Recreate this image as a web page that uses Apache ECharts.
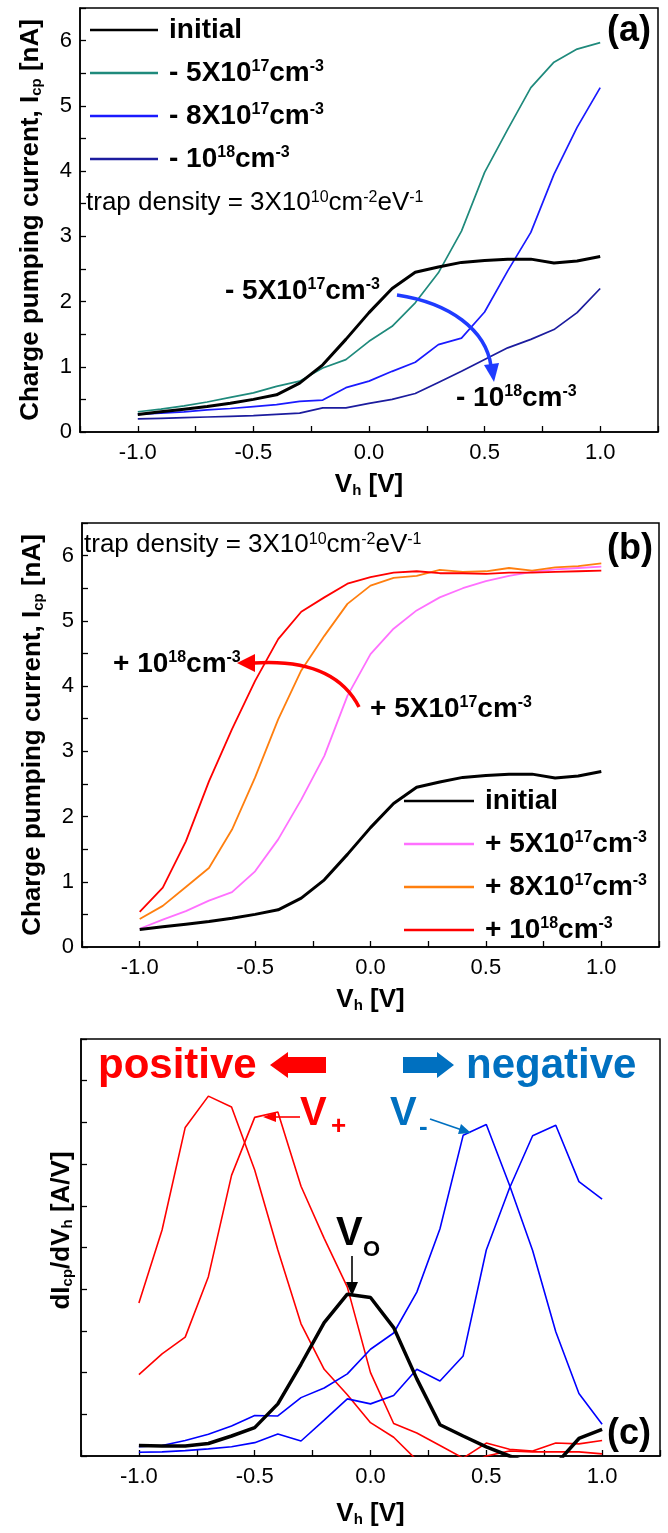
<!DOCTYPE html>
<html>
<head>
<meta charset="utf-8">
<title>Charge pumping current vs Vh</title>
<script src="https://cdn.jsdelivr.net/npm/echarts@6/dist/echarts.min.js"></script>
<style>
  html, body { margin: 0; padding: 0; background: #fff; }
  #chart { width: 668px; height: 1533px; }
</style>
</head>
<body>
<div id="chart"></div>
<script>
  var FONT = '"Liberation Sans", Arial, sans-serif';

  // V_h steps [V], shared by all panels
  var vh = [-1.0, -0.9, -0.8, -0.7, -0.6, -0.5, -0.4, -0.3, -0.2, -0.1, 0.0,
            0.1, 0.2, 0.3, 0.4, 0.5, 0.6, 0.7, 0.8, 0.9, 1.0];

  // (a) / (b) charge pumping current [nA]
  var icpInitial = [0.27, 0.31, 0.35, 0.39, 0.44, 0.50, 0.57, 0.75, 1.03, 1.42, 1.83,
                    2.20, 2.45, 2.53, 2.60, 2.63, 2.65, 2.65, 2.59, 2.62, 2.69];
  var icpNeg5e17 = [0.31, 0.35, 0.40, 0.46, 0.53, 0.60, 0.70, 0.78, 0.98, 1.11, 1.39,
                    1.62, 1.98, 2.44, 3.08, 3.98, 4.64, 5.28, 5.67, 5.87, 5.97];
  var icpNeg8e17 = [0.27, 0.29, 0.31, 0.34, 0.36, 0.39, 0.42, 0.47, 0.49, 0.68, 0.78,
                    0.93, 1.07, 1.34, 1.44, 1.84, 2.47, 3.06, 3.95, 4.67, 5.28];
  var icpNeg1e18 = [0.20, 0.21, 0.22, 0.23, 0.24, 0.25, 0.27, 0.29, 0.37, 0.37, 0.44,
                    0.50, 0.59, 0.76, 0.93, 1.11, 1.29, 1.42, 1.57, 1.83, 2.20];
  var icpPos5e17 = [0.28, 0.42, 0.55, 0.71, 0.84, 1.16, 1.65, 2.26, 2.93, 3.85, 4.49,
                    4.88, 5.16, 5.36, 5.50, 5.61, 5.69, 5.75, 5.79, 5.81, 5.83];
  var icpPos8e17 = [0.43, 0.63, 0.92, 1.21, 1.80, 2.60, 3.49, 4.24, 4.77, 5.26, 5.54,
                    5.66, 5.69, 5.78, 5.75, 5.76, 5.81, 5.77, 5.82, 5.84, 5.88];
  var icpPos1e18 = [0.54, 0.91, 1.62, 2.54, 3.34, 4.08, 4.72, 5.14, 5.36, 5.57, 5.67,
                    5.74, 5.76, 5.73, 5.73, 5.72, 5.74, 5.74, 5.75, 5.76, 5.77];

  // (c) dIcp/dVh, arbitrary units (negative parts fall below the axis)
  var dInitial = [0.25, 0.24, 0.24, 0.30, 0.48, 0.68, 1.25, 2.20, 3.20, 3.88, 3.80,
                  3.08, 1.85, 0.75, 0.48, 0.22, 0.00, -0.20, -0.20, 0.42, 0.64];
  var dPos1e18 = [3.67, 5.42, 7.88, 8.63, 8.37, 6.86, 4.94, 3.17, 2.08, 1.47, 0.80,
                  0.45, -0.10, -0.30, -0.25, 0.00, 0.12, 0.10, 0.10, 0.10, 0.05];
  var dPos5e17 = [1.95, 2.45, 2.85, 4.30, 6.73, 8.12, 8.25, 6.47, 5.22, 4.05, 2.00,
                  0.78, 0.55, 0.25, -0.05, 0.31, 0.16, 0.12, 0.31, 0.29, 0.37];
  var dNeg5e17 = [0.22, 0.25, 0.37, 0.52, 0.72, 0.97, 0.96, 1.40, 1.63, 1.97, 2.56,
                  2.95, 3.93, 5.45, 7.69, 7.95, 6.50, 4.93, 2.98, 1.50, 0.76];
  var dNeg1e18 = [0.09, 0.10, 0.13, 0.17, 0.22, 0.32, 0.53, 0.36, 0.86, 1.37, 1.25,
                  1.45, 2.08, 1.80, 2.40, 4.94, 6.42, 7.68, 7.93, 6.58, 6.16];

  var legendLabels = {
    'initial': '{f|initial}',
    '- 5X10^17': '{f|- 5X10}{s|17}{m|cm}{s|-3}',
    '- 8X10^17': '{f|- 8X10}{s|17}{m|cm}{s|-3}',
    '- 10^18': '{f|- 10}{s|18}{m|cm}{s|-3}',
    'initial (b)': '{f|initial}',
    '+ 5X10^17': '{f|+ 5X10}{s|17}{m|cm}{s|-3}',
    '+ 8X10^17': '{f|+ 8X10}{s|17}{m|cm}{s|-3}',
    '+ 10^18': '{f|+ 10}{s|18}{m|cm}{s|-3}'
  };

  function pairs(ys) {
    return vh.map(function (x, i) { return [x, ys[i]]; });
  }

  function line(name, ys, grid, color, width) {
    return {
      name: name, type: 'line', xAxisIndex: grid, yAxisIndex: grid,
      data: pairs(ys), symbol: 'none', color: color,
      lineStyle: { color: color, width: width }
    };
  }

  function xLabel(v) {
    var q = Math.round(v * 4);
    if (q % 2 !== 0 || Math.abs(v) > 1.001) return '';
    return v.toFixed(1);
  }

  var axisLineStyle = { onZero: false, lineStyle: { color: '#000', width: 1.5 } };
  var tickStyle = { inside: true, length: 6, lineStyle: { color: '#000', width: 1.3 } };
  var titleRich = {
    t: { fontFamily: FONT, fontSize: 26, fontWeight: 'bold', color: '#000' },
    sub: { fontFamily: FONT, fontSize: 15, fontWeight: 'bold', color: '#000', verticalAlign: 'bottom' }
  };

  function xAxis(grid, gap) {
    return {
      gridIndex: grid, type: 'value', min: -1.25, max: 1.25, interval: 0.25,
      axisLine: axisLineStyle, axisTick: tickStyle, splitLine: { show: false },
      axisLabel: { formatter: xLabel, fontFamily: FONT, fontSize: 22, color: '#000', margin: 10 },
      name: '{t|V}{sub|h}{t| [V]}', nameLocation: 'middle', nameGap: gap,
      nameTextStyle: { rich: titleRich }
    };
  }

  function yAxisIcp(grid) {
    return {
      gridIndex: grid, type: 'value', min: 0, max: 6.5, interval: 0.5,
      axisLine: axisLineStyle, axisTick: tickStyle, splitLine: { show: false },
      axisLabel: {
        fontFamily: FONT, fontSize: 22, color: '#000', margin: 8,
        formatter: function (v) { return v % 1 === 0 ? String(v) : ''; }
      },
      name: '{t|Charge pumping current, I}{sub|cp}{t| [nA]}',
      nameLocation: 'middle', nameGap: 36, nameRotate: 90,
      nameTextStyle: { rich: titleRich }
    };
  }

  // rich text pieces for the in-plot notes (zrender style names)
  function rich(big, small, color, weight) {
    return {
      m: { fontFamily: FONT, fontSize: big, fontWeight: weight, fill: color },
      s: { fontFamily: FONT, fontSize: small, fontWeight: weight, fill: color, verticalAlign: 'top' }
    };
  }
  function note(x, y, text, r) {
    return { type: 'text', x: x, y: y, z: 100,
      style: { text: text, rich: r, textVerticalAlign: 'middle' } };
  }
  function plain(x, y, text, size, color) {
    return { type: 'text', x: x, y: y, z: 100,
      style: { text: text, fill: color, textVerticalAlign: 'middle',
        font: 'bold ' + size + 'px ' + FONT } };
  }
  function seg(x1, y1, x2, y2, color, w) {
    return { type: 'line', z: 100, shape: { x1: x1, y1: y1, x2: x2, y2: y2 },
      style: { stroke: color, lineWidth: w } };
  }
  function poly(points, color) {
    return { type: 'polygon', z: 100, shape: { points: points }, style: { fill: color } };
  }

  var boldNote = rich(28, 16, '#000', 'bold');
  var trapNote = rich(26, 16, '#000', 'normal');
  var trapText = '{m|trap density = 3X10}{s|10}{m|cm}{s|-2}{m|eV}{s|-1}';

  var legendRich = {
    f: { fontFamily: FONT, fontSize: 28, fontWeight: 'bold', color: '#000', padding: [0, 0, 0, 6] },
    m: { fontFamily: FONT, fontSize: 28, fontWeight: 'bold', color: '#000' },
    s: { fontFamily: FONT, fontSize: 16, fontWeight: 'bold', color: '#000', verticalAlign: 'top' }
  };
  function legendFmt(name) { return legendLabels[name]; }

  var chart = echarts.init(document.getElementById('chart'));
  chart.setOption({
    animation: false,
    backgroundColor: '#fff',
    grid: [
      { left: 80, top: 8, width: 578, height: 424, show: true, borderColor: '#000', borderWidth: 1.5 },
      { left: 82, top: 523, width: 577, height: 424, show: true, borderColor: '#000', borderWidth: 1.5 },
      { left: 81, top: 1039, width: 579, height: 417, show: true, borderColor: '#000', borderWidth: 1.5 }
    ],
    xAxis: [xAxis(0, 40), xAxis(1, 40), xAxis(2, 45)],
    yAxis: [
      yAxisIcp(0),
      yAxisIcp(1),
      {
        gridIndex: 2, type: 'value', min: 0, max: 10, interval: 1,
        axisLine: axisLineStyle, axisTick: tickStyle, splitLine: { show: false },
        axisLabel: { show: false },
        name: '{t|dI}{sub|cp}{t|/dV}{sub|h}{t| [A/V]}',
        nameLocation: 'middle', nameGap: 6, nameRotate: 90,
        nameTextStyle: { rich: titleRich, padding: [0, 0, 0, 34] }
      }
    ],
    legend: [
      {
        orient: 'vertical', left: 85, top: 11, itemWidth: 68, itemHeight: 2.5, itemGap: 15,
        icon: 'rect',
        data: ['initial', '- 5X10^17', '- 8X10^17', '- 10^18'],
        formatter: legendFmt, textStyle: { rich: legendRich }
      },
      {
        orient: 'vertical', left: 399, top: 782, itemWidth: 70, itemHeight: 2.5, itemGap: 15,
        icon: 'rect',
        data: ['initial (b)', '+ 5X10^17', '+ 8X10^17', '+ 10^18'],
        formatter: legendFmt, textStyle: { rich: legendRich }
      }
    ],
    series: [
      line('- 5X10^17', icpNeg5e17, 0, '#1f8a7c', 1.7),
      line('- 8X10^17', icpNeg8e17, 0, '#1a1aff', 1.7),
      line('- 10^18', icpNeg1e18, 0, '#1c1c9e', 1.7),
      line('initial', icpInitial, 0, '#000', 3),

      line('+ 5X10^17', icpPos5e17, 1, '#ff70ff', 1.8),
      line('+ 8X10^17', icpPos8e17, 1, '#ff7f0f', 1.8),
      line('+ 10^18', icpPos1e18, 1, '#ff0000', 1.8),
      line('initial (b)', icpInitial, 1, '#000', 3),

      line('d +10^18', dPos1e18, 2, '#ff0000', 1.6),
      line('d +5X10^17', dPos5e17, 2, '#ff0000', 1.6),
      line('d -5X10^17', dNeg5e17, 2, '#0000ff', 1.6),
      line('d -10^18', dNeg1e18, 2, '#0000ff', 1.6),
      line('d initial', dInitial, 2, '#000', 3.5)
    ],
    graphic: [
      // panel (a)
      plain(607, 31, '(a)', 36, '#000'),
      note(86, 203, trapText, trapNote),
      note(225, 291, '{m|- 5X10}{s|17}{m|cm}{s|-3}', boldNote),
      note(456, 398, '{m|- 10}{s|18}{m|cm}{s|-3}', boldNote),
      { type: 'bezierCurve', z: 100,
        shape: { x1: 397, y1: 295, cpx1: 450, cpy1: 303, cpx2: 486, cpy2: 330, x2: 491, y2: 366 },
        style: { stroke: '#1f3bff', lineWidth: 3.5, fill: null } },
      poly([[494, 382], [484, 365], [499, 363]], '#1f3bff'),

      // panel (b)
      plain(607, 549, '(b)', 36, '#000'),
      note(84, 545, trapText, trapNote),
      note(113, 664, '{m|+ 10}{s|18}{m|cm}{s|-3}', boldNote),
      note(370, 709, '{m|+ 5X10}{s|17}{m|cm}{s|-3}', boldNote),
      { type: 'bezierCurve', z: 100,
        shape: { x1: 359, y1: 707, cpx1: 340, cpy1: 670, cpx2: 300, cpy2: 660, x2: 254, y2: 663 },
        style: { stroke: '#ff0000', lineWidth: 3.5, fill: null } },
      poly([[237, 663], [255, 654], [255, 672]], '#ff0000'),

      // panel (c)
      plain(607, 1434, '(c)', 36, '#000'),
      plain(98, 1066, 'positive', 42, '#ff0000'),
      poly([[270, 1065], [288, 1052], [288, 1057], [326, 1057], [326, 1073], [288, 1073], [288, 1078]], '#ff0000'),
      poly([[454, 1065], [437, 1052], [437, 1057], [403, 1057], [403, 1073], [437, 1073], [437, 1078]], '#0070c0'),
      plain(466, 1066, 'negative', 42, '#0070c0'),

      plain(300, 1114, 'V', 40, '#ff0000'),
      plain(331, 1127, '+', 26, '#ff0000'),
      seg(300, 1117, 274, 1117, '#ff0000', 1.6),
      poly([[263, 1117], [276, 1112], [276, 1122]], '#ff0000'),

      plain(390, 1114, 'V', 40, '#0070c0'),
      plain(419, 1128, '-', 26, '#0070c0'),
      seg(430, 1119, 462, 1130, '#0070c0', 1.8),
      poly([[471, 1133], [458, 1134], [461, 1124]], '#0070c0'),

      plain(336, 1234, 'V', 40, '#000'),
      plain(363, 1250, 'O', 22, '#000'),
      seg(352, 1256, 352, 1284, '#000', 1.6),
      poly([[352, 1296], [346, 1282], [358, 1282]], '#000')
    ]
  });
</script>
</body>
</html>
